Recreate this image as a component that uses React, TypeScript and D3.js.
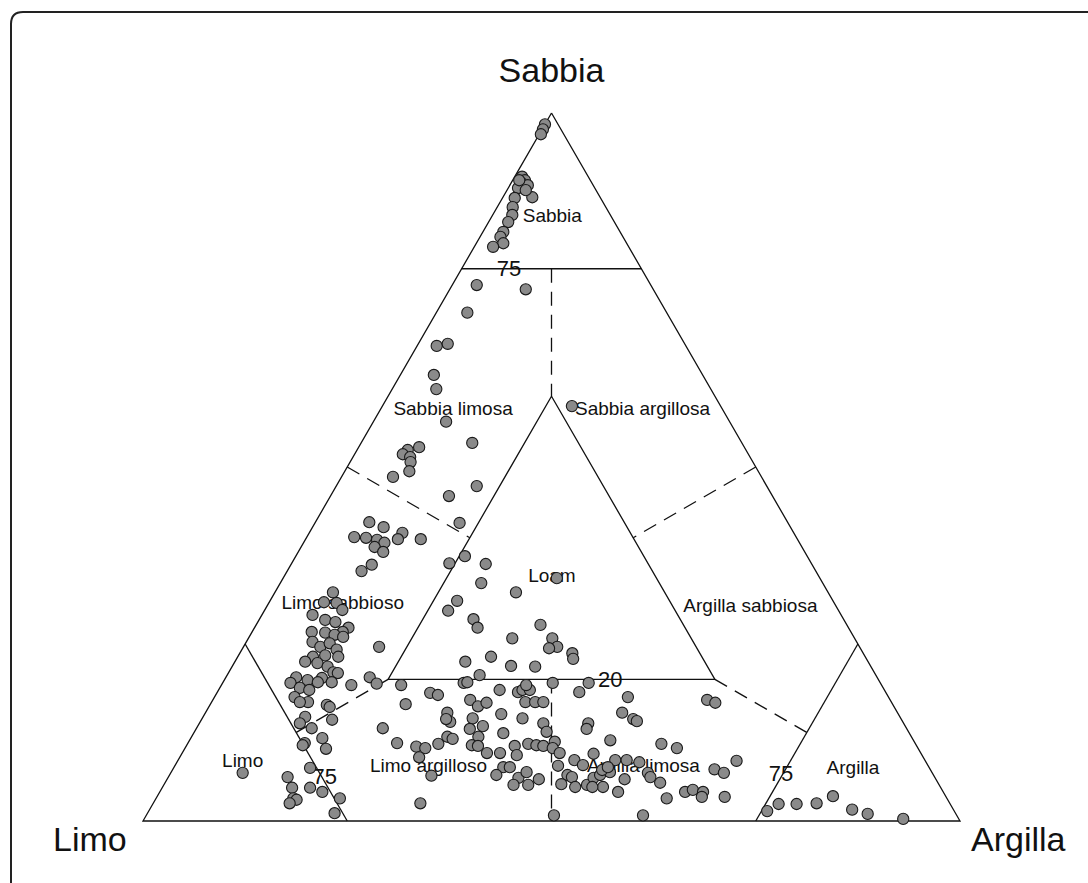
import React from 'react';
import * as d3 from 'd3';

// each sample: [sabbia %, argilla %]  (limo = 100 - sabbia - argilla)
const sabbiaPts = [
  [98.4, 0], [97.7, 0.1], [97.0, 0.2], [91.0, 0.9], [90.5, 1.5], [90.1, 1.3], [89.8, 2.2],
  [89.4, 1.2], [88.1, 3.6], [88.0, 1.5], [86.7, 1.9], [85.6, 2.4], [84.6, 2.4], [83.2, 2.5],
  [82.5, 2.5], [81.6, 3.3], [81.1, 2.3], [90.5, 0.8], [89.1, 2.3],
];
const sabbiaLimosaPts = [
  [75.7, 3.0], [75.1, 9.3], [71.8, 3.8], [67.1, 2.4], [67.4, 3.6], [63.0, 4.1], [61.0, 5.4],
  [56.4, 8.9], [53.4, 13.6], [52.4, 6.2], [52.8, 7.4], [51.8, 5.9], [51.4, 7.0], [50.7, 7.4],
  [49.4, 7.9], [48.6, 6.3], [47.3, 17.2], [45.9, 14.5], [42.1, 17.7], [40.7, 11.4], [39.8, 14.1],
  [39.8, 11.3], [58.6, 23.2],
];
const loamPts = [
  [37.4, 20.7], [36.4, 19.3], [36.3, 23.8], [33.6, 24.6], [32.3, 29.5], [34.3, 33.5], [31.1, 22.9],
  [29.7, 22.5], [28.5, 26.2], [27.3, 27.3], [27.7, 34.8], [25.8, 32.3], [25.8, 37.2], [24.6, 38.4],
  [24.4, 37.5], [23.7, 40.7], [22.9, 41.2], [22.5, 28.2], [23.2, 31.0], [21.9, 34.1], [21.8, 37.1],
  [20.6, 30.9],
];
const limoSabbiosoPts = [
  [42.2, 6.6], [41.5, 8.7], [40.1, 5.8], [40.0, 7.3], [39.7, 8.8], [39.3, 9.9], [38.7, 9.0],
  [38.0, 10.4], [36.2, 9.9], [35.3, 9.1], [32.3, 7.1], [30.9, 6.7], [30.8, 8.3], [29.8, 9.5],
  [29.1, 6.2], [28.4, 8.1], [28.1, 9.5], [27.3, 11.5], [26.7, 11.1], [26.7, 7.3], [26.6, 9.0],
  [26.3, 10.3], [26.0, 11.5], [25.3, 8.1], [24.6, 9.4], [25.1, 10.3], [24.2, 11.6], [23.2, 9.2],
  [23.4, 10.6], [23.2, 12.3], [22.5, 8.6], [22.3, 10.2], [21.8, 11.7], [21.0, 12.8], [20.3, 8.6],
  [19.9, 10.2], [20.2, 11.8], [20.9, 13.4], [19.5, 8.3], [18.8, 9.8], [18.5, 11.1], [19.6, 11.6],
  [19.6, 13.3], [17.5, 9.8], [16.8, 11.8], [16.8, 10.8], [16.4, 14.3], [16.1, 14.8], [14.7, 12.5],
  [13.8, 12.3], [13.1, 14.1], [14.3, 16.0], [11.7, 16.1], [11.0, 14.3], [10.7, 14.2], [10.2, 17.3],
  [7.5, 16.7], [4.7, 18.1], [4.1, 19.9], [3.2, 22.5], [1.1, 22.9], [24.6, 16.6], [19.2, 15.9],
];
const limoPts = [
  [6.8, 8.8], [6.2, 14.6], [4.7, 15.9], [3.2, 16.8], [3.0, 17.3], [2.5, 16.7],
];
const limoArgillosoPts = [
  [20.3, 17.6], [19.4, 18.9], [19.2, 22.0], [16.5, 23.9], [18.1, 26.1], [17.8, 27.2], [19.5, 29.5],
  [19.6, 29.9], [13.1, 22.8], [11.0, 25.6], [10.5, 28.2], [10.3, 29.4], [10.9, 30.7], [11.9, 31.3],
  [11.6, 32.1], [9.0, 29.3], [6.4, 32.1], [17.1, 31.5], [16.2, 32.9], [16.7, 33.7], [15.3, 29.6],
  [14.0, 30.6], [14.4, 29.9], [14.5, 33.1], [13.4, 34.9], [13.0, 33.5], [11.9, 35.1], [10.7, 34.9],
  [10.6, 35.7], [9.6, 37.3], [9.6, 38.9], [15.1, 36.3], [18.5, 34.4], [18.2, 36.8], [18.5, 37.2],
  [18.5, 38.1], [19.2, 37.3], [16.8, 38.4], [16.8, 39.6], [16.8, 40.6], [14.5, 39.2], [12.4, 37.9],
  [2.5, 32.7],
];
const argillaLimosaPts = [
  [19.5, 40.4], [19.5, 44.8], [18.2, 44.3], [17.5, 50.6], [13.8, 42.1], [12.6, 43.1], [13.8, 47.6],
  [13.0, 47.8], [11.4, 51.5], [10.6, 40.2], [10.9, 41.7], [10.7, 42.8], [10.6, 43.7], [11.2, 44.8],
  [10.3, 45.0], [9.6, 46.2], [9.3, 41.1], [7.6, 40.3], [7.6, 41.1], [6.5, 40.0], [6.1, 42.9],
  [6.9, 43.5], [5.9, 45.5], [5.1, 42.8], [5.1, 44.6], [7.8, 46.9], [8.6, 48.5], [7.9, 49.9],
  [9.5, 50.4], [6.5, 48.7], [6.2, 49.4], [5.2, 48.6], [4.8, 50.5], [5.1, 51.8], [6.1, 52.1],
  [6.5, 52.7], [4.8, 53.9], [4.8, 52.6], [6.9, 53.7], [8.6, 53.5], [4.1, 56.1], [0.8, 49.9],
  [15.3, 51.0], [14.4, 52.8], [14.1, 53.4], [17.1, 60.5], [16.7, 61.7], [10.9, 58.0], [10.3, 60.2],
  [8.5, 68.4], [7.3, 66.3], [6.8, 67.7], [7.2, 52.6], [7.6, 53.1], [8.6, 54.9], [8.3, 56.6],
  [6.8, 58.4], [6.2, 59.0], [5.4, 60.6], [5.9, 56.0], [3.2, 62.5], [4.1, 64.3], [4.4, 65.1],
  [4.1, 66.5], [3.4, 66.7], [3.4, 69.5], [0.8, 60.8],
];
const argillaPts = [
  [1.4, 75.7], [2.4, 76.6], [2.4, 78.8], [2.5, 81.2], [3.5, 82.7], [1.6, 86.0], [1.0, 88.2], [0.3, 92.9],
];

// class boundaries, as [sabbia, argilla] end points
const solidLines = [
  [[100, 0], [0, 0], [0, 100], [100, 0]],
  [[78, 0], [78, 22]],
  [[60, 20], [20, 20], [20, 60], [60, 20]],
  [[25, 0], [0, 25]],
  [[25, 75], [0, 75]],
];
const dashedLines = [
  [[78, 11], [60, 20]],
  [[50, 0], [40, 20]],
  [[50, 50], [40, 40]],
  [[20, 20], [12.5, 12.5]],
  [[20, 60], [12.5, 75]],
  [[20, 40], [0, 50]],
];

const classNames = ['Sabbia', 'Sabbia limosa', 'Sabbia argillosa', 'Loam', 'Limo sabbioso',
  'Argilla sabbiosa', 'Limo', 'Limo argilloso', 'Argilla limosa', 'Argilla'];
const classAt = [[85.6, 7.3], [58.3, 8.8], [58.3, 32.0], [34.7, 32.7], [30.9, 9.0],
  [30.5, 59.1], [8.6, 7.9], [7.9, 31.0], [7.9, 57.3], [7.6, 83.1]];

const tickLabels = ['75', '75', '75', '20'];
const tickAt = [[78, 5.8], [6.3, 19.1], [6.8, 74.7], [20, 47.2]];

const font = '"Liberation Sans", Arial, sans-serif';

export default function App() {
  const W = 1088, H = 883;
  const y = d3.scaleLinear().domain([0, 100]).range([821, 113]);
  const x = d3.scaleLinear().domain([0, 100]).range([143, 960]);
  const pt = (d) => [x(d[1] + d[0] / 2), y(d[0])];
  const line = d3.line().x((d) => pt(d)[0]).y((d) => pt(d)[1]);

  const allPts = [...sabbiaPts, ...sabbiaLimosaPts, ...loamPts, ...limoSabbiosoPts,
    ...limoPts, ...limoArgillosoPts, ...argillaLimosaPts, ...argillaPts];

  return (
    <svg width={W} height={H} style={{ position: 'absolute', left: 0, top: 0, background: '#fff' }}
      fontFamily={font}>
      <path d={`M11,${H + 10} L11,24 Q11,12 23,12 L${W + 10},12`} fill="none" stroke="#222" strokeWidth={2} />

      {solidLines.map((l, i) => (
        <path key={'s' + i} d={line(l)} fill="none" stroke="#111" strokeWidth={1.3} />
      ))}
      {dashedLines.map((l, i) => (
        <path key={'d' + i} d={line(l)} fill="none" stroke="#111" strokeWidth={1.3} strokeDasharray="14,9" />
      ))}

      {classNames.map((t, i) => {
        const [px, py] = pt(classAt[i]);
        return <text key={'c' + i} x={px} y={py} dy="0.35em" textAnchor="middle" fontSize={19} fill="#111">{t}</text>;
      })}
      {tickLabels.map((t, i) => {
        const [px, py] = pt(tickAt[i]);
        return <text key={'t' + i} x={px} y={py} dy="0.35em" textAnchor="middle" fontSize={22} fill="#111">{t}</text>;
      })}

      {allPts.map((d, i) => {
        const [px, py] = pt(d);
        return <circle key={'p' + i} cx={px} cy={py} r={5.6} fill="#8a8a8a" stroke="#1a1a1a" strokeWidth={1.1} />;
      })}

      <text x={x(50)} y={82} textAnchor="middle" fontSize={34} fill="#111">Sabbia</text>
      <text x={53} y={851} fontSize={34} fill="#111">Limo</text>
      <text x={971} y={851} fontSize={34} fill="#111">Argilla</text>
    </svg>
  );
}
